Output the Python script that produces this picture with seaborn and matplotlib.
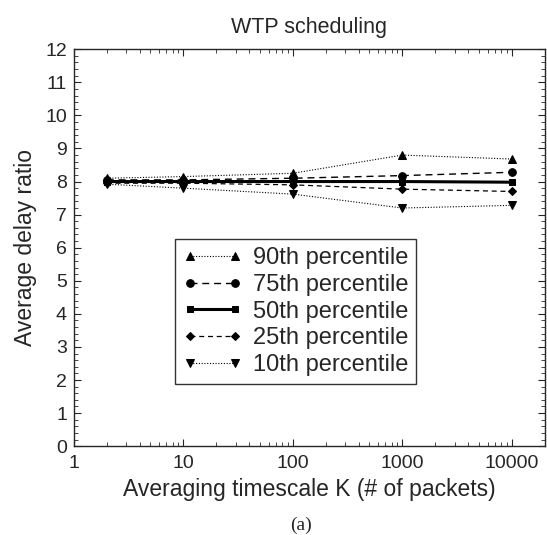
import matplotlib
matplotlib.use('Agg')
import matplotlib.pyplot as plt
import matplotlib.ticker as mticker
import seaborn as sns
import pandas as pd

# averaging timescale K
k_values = [2, 10, 100, 1000, 10000]

p90 = [8.10, 8.15, 8.25, 8.80, 8.68]
p75 = [8.05, 8.05, 8.10, 8.18, 8.28]
p50 = [8.00, 8.00, 8.00, 8.00, 7.98]
p25 = [7.95, 7.95, 7.90, 7.77, 7.70]
p10 = [7.92, 7.80, 7.62, 7.20, 7.28]

labels = ['90th percentile', '75th percentile', '50th percentile',
          '25th percentile', '10th percentile']

sns.set_style('ticks')
plt.rcParams['font.family'] = ['Liberation Sans', 'DejaVu Sans']

fig = plt.figure(figsize=(5.47, 5.35), dpi=100)
ax = fig.add_axes([0.135, 0.166, 0.861, 0.742])

styles = [
    dict(marker='^', linestyle=(0, (1, 1.5)), linewidth=0.8, markersize=5.5),
    dict(marker='o', linestyle=(0, (5, 3.5)), linewidth=1.0, markersize=5.5),
    dict(marker='s', linestyle='-', linewidth=2.2, markersize=4.5),
    dict(marker='D', linestyle=(0, (4, 3)), linewidth=0.9, markersize=4),
    dict(marker='v', linestyle=(0, (1, 1.5)), linewidth=0.8, markersize=5.5),
]

for vals, lab, st in zip([p90, p75, p50, p25, p10], labels, styles):
    df = pd.DataFrame({'K': k_values, 'ratio': vals})
    sns.lineplot(data=df, x='K', y='ratio', ax=ax, color='black',
                 label=lab, markeredgecolor='black', **st)

ax.set_xscale('log')
ax.set_xlim(1, 20000)
ax.set_ylim(0, 12)
ax.set_yticks(range(0, 13))
ax.yaxis.set_minor_locator(mticker.MultipleLocator(0.2))
ax.xaxis.set_major_formatter(mticker.FuncFormatter(lambda v, p: f'{int(v)}'))
ax.tick_params(which='both', direction='in', top=True, right=True)
ax.tick_params(which='major', length=5, labelsize=14)
ax.tick_params(axis='x', which='major', pad=6)
ax.tick_params(axis='y', which='major', pad=5)
ax.tick_params(which='minor', length=3)
for sp in ax.spines.values():
    sp.set_linewidth(1.0)

ax.set_title('WTP scheduling', fontsize=15.5, pad=12)
ax.set_xlabel('Averaging timescale K (# of packets)', fontsize=16.5, labelpad=5)
ax.set_ylabel('Average delay ratio', fontsize=16.5, labelpad=6)

leg = ax.legend(loc='lower left', bbox_to_anchor=(0.214, 0.156), numpoints=2,
                fontsize=17, handlelength=2.5, frameon=True, fancybox=False,
                borderpad=0.35, labelspacing=0.2, handletextpad=0.45,
                borderaxespad=0)
leg.get_frame().set_edgecolor('black')
leg.get_frame().set_linewidth(1.0)

fig.text(0.55, 0.01, '(a)', ha='center', fontsize=14, family='Liberation Serif')

fig.savefig('out.png', dpi=100)
